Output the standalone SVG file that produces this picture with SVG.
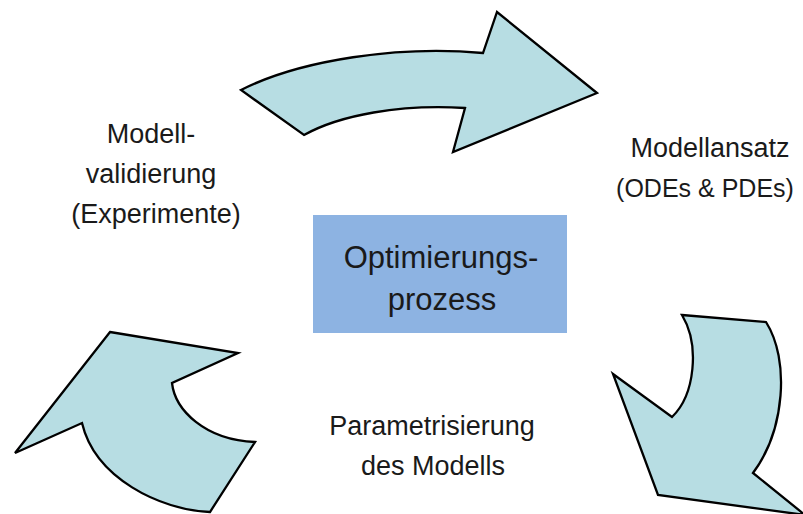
<svg xmlns="http://www.w3.org/2000/svg" width="803" height="514" viewBox="0 0 803 514">
<style>
.arrow{fill:#b7dde3;stroke:#000;stroke-width:2.3;stroke-linejoin:miter}
.lbl{font-family:"Liberation Sans",Arial,sans-serif;font-size:27px;fill:#1a1a1a;text-anchor:middle}
.ctr{font-family:"Liberation Sans",Arial,sans-serif;font-size:31px;fill:#1a1a1a;text-anchor:middle}
</style>
<rect width="803" height="514" fill="#fff"/>
<g id="connectors">
<path id="arrow-top" class="arrow" d="M241,90 C300,60 400,45 483,53 L497,12 L597,93 L453,152 L465,108 C400,104 340,115 304,135 Z"/>
<path id="arrow-right" class="arrow" d="M682,315 L766,322 C790,360 785,430 753,473 L805,515 L658,495 L613,374 L672,417 C695,395 700,345 682,315 Z"/>
<path id="arrow-left" class="arrow" d="M110,332 L238,353 L172,383 C175,410 205,440 255,442 L210,512 C160,510 95,478 82,423 L15,453 Z"/>
</g>
<g id="node-center">
<rect x="313" y="215" width="254" height="118" fill="#8db3e2"/>
<text class="ctr" x="441" y="268">Optimierungs-</text>
<text class="ctr" x="442" y="310">prozess</text>
</g>
<g id="node-left">
<text class="lbl" x="151" y="143">Modell-</text>
<text class="lbl" x="151" y="183">validierung</text>
<text class="lbl" x="156" y="223">(Experimente)</text>
</g>
<g id="node-right">
<text class="lbl" x="710" y="157">Modellansatz</text>
<text class="lbl" x="705" y="197" style="font-size:25px">(ODEs &amp; PDEs)</text>
</g>
<g id="node-bottom">
<text class="lbl" x="432" y="435">Parametrisierung</text>
<text class="lbl" x="433" y="475">des Modells</text>
</g>
</svg>
